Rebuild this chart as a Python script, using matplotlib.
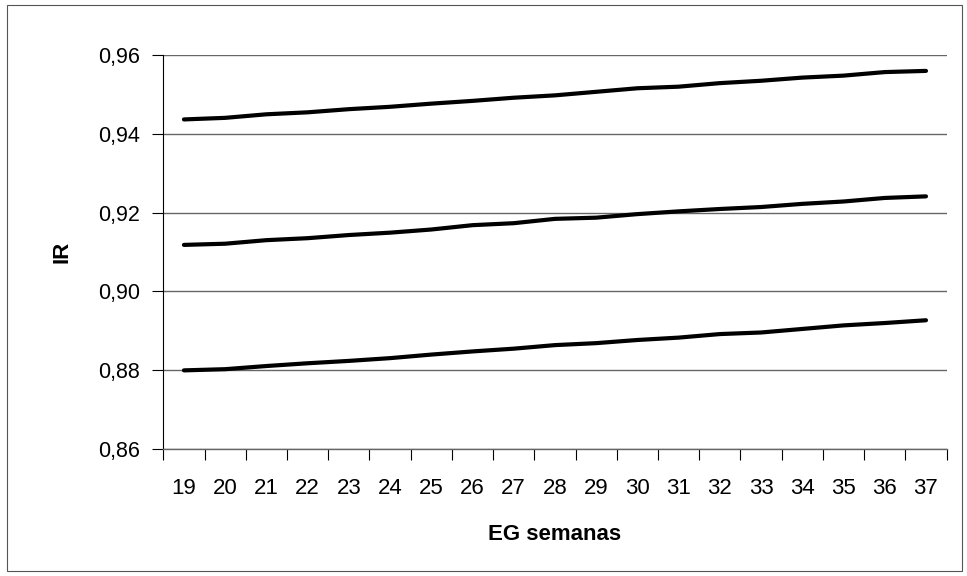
import matplotlib
matplotlib.use('Agg')
import matplotlib.pyplot as plt
from matplotlib.patches import Rectangle

# semanas de gestação
semanas = [19, 20, 21, 22, 23, 24, 25, 26, 27, 28, 29, 30, 31, 32, 33, 34, 35, 36, 37]

# IR por semana (curvas superior, média e inferior)
ir_superior = [0.9436, 0.9440, 0.9449, 0.9454, 0.9462, 0.9468, 0.9476, 0.9483, 0.9491, 0.9497,
               0.9506, 0.9515, 0.9519, 0.9528, 0.9534, 0.9542, 0.9547, 0.9556, 0.9559]
ir_medio = [0.9118, 0.9121, 0.9130, 0.9135, 0.9143, 0.9149, 0.9157, 0.9168, 0.9173, 0.9184,
            0.9187, 0.9196, 0.9203, 0.9209, 0.9214, 0.9222, 0.9228, 0.9237, 0.9241]
ir_inferior = [0.8800, 0.8803, 0.8811, 0.8818, 0.8824, 0.8831, 0.8840, 0.8848, 0.8855, 0.8864,
               0.8869, 0.8877, 0.8883, 0.8892, 0.8896, 0.8905, 0.8914, 0.8920, 0.8927]

y_ticks = [0.86, 0.88, 0.90, 0.92, 0.94, 0.96]

plt.rcParams['font.family'] = ['Liberation Sans', 'DejaVu Sans']

fig = plt.figure(figsize=(9.67, 5.76), dpi=100)
ax = fig.add_axes([0.1689, 0.22, 0.810, 0.685])

x = list(range(len(semanas)))
for serie in (ir_superior, ir_medio, ir_inferior):
    ax.plot(x, serie, color='black', linewidth=3.0, solid_capstyle='round')

# eixo y
ax.set_ylim(0.86, 0.96)
ax.set_yticks(y_ticks)
ax.set_yticklabels([('%.2f' % v).replace('.', ',') for v in y_ticks], fontsize=15.5)
ax.tick_params(axis='y', direction='out', length=8, width=0.8, color='black', pad=9)
ax.yaxis.grid(True, color='#666666', linewidth=1.0)
ax.set_axisbelow(True)

# eixo x: rótulos no centro das categorias, marcas entre elas
ax.set_xlim(-0.5, len(semanas) - 0.5)
ax.set_xticks(x)
ax.set_xticklabels([str(s) for s in semanas], fontsize=16)
ax.tick_params(axis='x', which='major', length=0, pad=21)
ax.set_xticks([i - 0.5 for i in range(len(semanas) + 1)], minor=True)
ax.tick_params(axis='x', which='minor', direction='out', length=8, width=0.8, color='black')

ax.spines['top'].set_visible(False)
ax.spines['right'].set_visible(False)
ax.spines['left'].set_color('black')
ax.spines['left'].set_linewidth(0.8)
ax.spines['bottom'].set_color('#666666')
ax.spines['bottom'].set_linewidth(1.0)

ax.set_ylabel('IR', fontsize=16, fontweight='bold', va='center')
ax.yaxis.set_label_coords(-0.129, 0.5)
ax.set_xlabel('EG semanas', fontsize=16, fontweight='bold', va='center')
ax.xaxis.set_label_coords(0.5, -0.217)

# moldura do gráfico
fig.patches.append(Rectangle((7 / 967, 1 - 571 / 576), 955 / 967, 566 / 576,
                             transform=fig.transFigure, fill=False,
                             edgecolor='#555555', linewidth=0.8))

fig.savefig('out.png', dpi=100)
